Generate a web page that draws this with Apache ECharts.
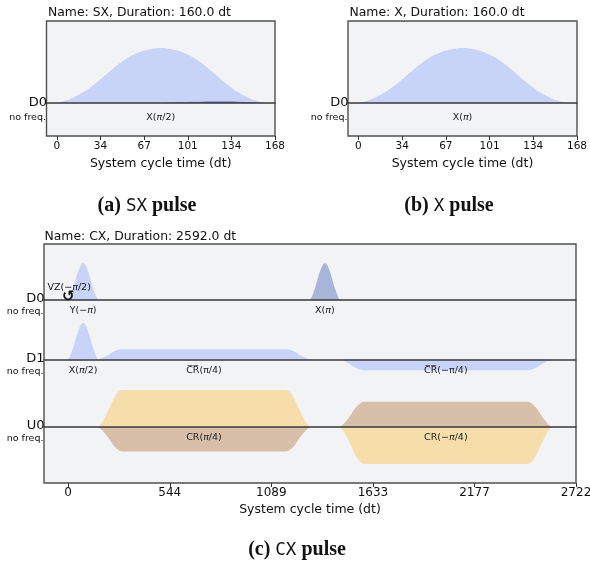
<!DOCTYPE html>
<html><head><meta charset="utf-8">
<script src="https://cdn.jsdelivr.net/npm/echarts@6/dist/echarts.min.js"></script>
<style>html,body{margin:0;padding:0;background:#fff}#c{width:590px;height:569px}</style>
</head><body><div id="c"></div>
<script>
// ================= DATA =================
// (a) SX pulse, D0 channel (dt, normalized amplitude)
const sxT      = [0,10,20,30,40,50,60,70,80,90,100,110,120,130,140,150,160];
const sxReal   = [0,0.07,0.19,0.36,0.56,0.75,0.89,0.97,1,0.97,0.89,0.75,0.56,0.36,0.19,0.07,0];
const sxImagT  = [80,90,100,110,120,130,140,150,160];
const sxImag   = [0,0.01,0.02,0.025,0.03,0.03,0.025,0.015,0];
// (b) X pulse, D0 channel
const xT       = [0,10,20,30,40,50,60,70,80,90,100,110,120,130,140,150,160];
const xReal    = [0,0.07,0.19,0.36,0.56,0.75,0.89,0.97,1,0.97,0.89,0.75,0.56,0.36,0.19,0.07,0];
// (c) CX pulse
const cxG1T    = [0,10,20,30,40,50,60,70,80,90,100,110,120,130,140,150,160];
const cxD0YRe  = [0,0.09,0.22,0.37,0.55,0.72,0.86,0.96,1,0.96,0.86,0.72,0.55,0.37,0.22,0.09,0];
const cxG2T    = [1296,1306,1316,1326,1336,1346,1356,1366,1376,1386,1396,1406,1416,1426,1436,1446,1456];
const cxD0XIm  = [0,0.09,0.22,0.37,0.55,0.72,0.86,0.96,1,0.96,0.86,0.72,0.55,0.37,0.22,0.09,0];
const cxD1XRe  = [0,0.09,0.22,0.37,0.55,0.71,0.85,0.95,0.99,0.95,0.85,0.71,0.55,0.37,0.22,0.09,0];
const cxCr1T   = [160,176,192,208,224,240,256,272,288,1168,1184,1200,1216,1232,1248,1264,1280,1296];
const cxCr2T   = [1456,1472,1488,1504,1520,1536,1552,1568,1584,2464,2480,2496,2512,2528,2544,2560,2576,2592];
const cxD1Cr1  = [0,0.03,0.06,0.10,0.15,0.20,0.24,0.27,0.28,0.28,0.27,0.24,0.20,0.15,0.10,0.06,0.03,0];
const cxD1Cr2  = [0,-0.03,-0.06,-0.11,-0.16,-0.21,-0.25,-0.28,-0.29,-0.29,-0.28,-0.25,-0.21,-0.16,-0.11,-0.06,-0.03,0];
const cxU0Cr1Re= [0,0.09,0.22,0.37,0.55,0.72,0.86,0.96,1,1,0.96,0.86,0.72,0.55,0.37,0.22,0.09,0];
const cxU0Cr1Im= [0,-0.06,-0.15,-0.24,-0.36,-0.48,-0.57,-0.63,-0.66,-0.66,-0.63,-0.57,-0.48,-0.36,-0.24,-0.15,-0.06,0];
const cxU0Cr2Re= [0,-0.09,-0.22,-0.37,-0.55,-0.72,-0.86,-0.96,-1,-1,-0.96,-0.86,-0.72,-0.55,-0.37,-0.22,-0.09,0];
const cxU0Cr2Im= [0,0.06,0.15,0.25,0.37,0.49,0.58,0.65,0.68,0.68,0.65,0.58,0.49,0.37,0.25,0.15,0.06,0];
// axis ticks
const sxTicks      = [0,33.6,67.2,100.8,134.4,168];
const sxTickLabels = ['0','34','67','101','134','168'];
const cxTicks      = [0,544.4,1088.8,1633.2,2177.6,2721.6];
const cxTickLabels = ['0','544','1089','1633','2177','2722'];
// texts
const titles   = ['Name: SX, Duration: 160.0 dt','Name: X, Duration: 160.0 dt','Name: CX, Duration: 2592.0 dt'];
const captions = [['(a)','SX','pulse'],['(b)','X','pulse'],['(c)','CX','pulse']];
const cxChannels = ['D0','D1','U0'];

// ================= LAYOUT =================
const FONT = 'DejaVu Sans';
const COL = {dRe:'#648fff', dIm:'#002999', uRe:'#ffb000', uIm:'#994a00'};
const LA = {left:46.5, top:21, width:228.5, height:115, unit:55, base:103};
const LB = {left:348, top:21, width:229, height:115, unit:55, base:103};
const LC = {left:44, top:244, width:532, height:239, unit:37, bases:[300,359.5,427]};
const sxRange = [-8, 168], cxRange = [-129.6, 2721.6];

const grids=[], xAxes=[], yAxes=[], series=[];
function addBox(L, rng, ticks, labels, tickFont, margin, nameGap) {
  const gi = grids.length;
  grids.push({left:L.left, top:L.top, width:L.width, height:L.height, show:true, outerBoundsMode:'none',
    containLabel:false, backgroundColor:'#f2f3f4', borderColor:'#505050', borderWidth:1.4});
  xAxes.push({gridIndex:gi, type:'value', min:rng[0], max:rng[1],
    axisLine:{show:false}, splitLine:{show:false},
    axisTick:{show:true, customValues:ticks, length:4, lineStyle:{color:'#333', width:1}},
    axisLabel:{customValues:ticks, fontFamily:FONT, fontSize:tickFont, color:'#111', margin:margin,
      formatter:(v)=>{const k=ticks.findIndex(t=>Math.abs(t-v)<1e-6); return k>=0?labels[k]:'';}},
    name:'System cycle time (dt)', nameLocation:'middle', nameGap:nameGap,
    nameTextStyle:{fontFamily:FONT, fontSize:12.5, color:'#111'}});
  yAxes.push({gridIndex:gi, type:'value', min:0, max:1, show:false});
  return gi;
}
function addChannel(L, base, rng) {
  const gi = grids.length;
  grids.push({left:L.left, top:L.top, width:L.width, height:L.height, show:false, outerBoundsMode:'none', containLabel:false});
  xAxes.push({gridIndex:gi, type:'value', min:rng[0], max:rng[1], z:5,
    axisLine:{show:true, onZero:true, lineStyle:{color:'#3a3a3a', width:1.5}},
    axisTick:{show:false}, axisLabel:{show:false}, splitLine:{show:false}});
  yAxes.push({gridIndex:gi, type:'value', show:false,
    min:-(L.top+L.height-base)/L.unit, max:(base-L.top)/L.unit});
  return gi;
}
function area(gi, times, vals, color, op) {
  series.push({type:'line', xAxisIndex:gi, yAxisIndex:gi, data:times.map((t,i)=>[t, vals[i]]),
    showSymbol:false, smooth:0.35, silent:true, animation:false,
    lineStyle:{width:0, opacity:0}, areaStyle:{color:color, opacity:op}});
}

const gA = addBox(LA, sxRange, sxTicks, sxTickLabels, 10.5, 5, 21);
const cA = addChannel(LA, LA.base, sxRange);
const gB = addBox(LB, sxRange, sxTicks, sxTickLabels, 10.5, 5, 21);
const cB = addChannel(LB, LB.base, sxRange);
const gC = addBox(LC, cxRange, cxTicks, cxTickLabels, 12, 4, 20);
const cC = LC.bases.map(b => addChannel(LC, b, cxRange));

area(cA, sxT, sxReal, COL.dRe, 0.3);
area(cA, sxImagT, sxImag, COL.dIm, 0.4);
area(cB, xT, xReal, COL.dRe, 0.3);
area(cC[0], cxG1T, cxD0YRe, COL.dRe, 0.3);
area(cC[0], cxG2T, cxD0XIm, COL.dIm, 0.3);
area(cC[1], cxG1T, cxD1XRe, COL.dRe, 0.3);
area(cC[1], cxCr1T, cxD1Cr1, COL.dRe, 0.3);
area(cC[1], cxCr2T, cxD1Cr2, COL.dRe, 0.3);
area(cC[2], cxCr1T, cxU0Cr1Re, COL.uRe, 0.3);
area(cC[2], cxCr1T, cxU0Cr1Im, COL.uIm, 0.3);
area(cC[2], cxCr2T, cxU0Cr2Re, COL.uRe, 0.3);
area(cC[2], cxCr2T, cxU0Cr2Im, COL.uIm, 0.3);

const chart = echarts.init(document.getElementById('c'));
chart.setOption({animation:false, backgroundColor:'#fff', grid:grids, xAxis:xAxes, yAxis:yAxes, series:series});

// ================= TEXTS =================
const P = (gi, t, v) => chart.convertToPixel({gridIndex:gi}, [t, v]);
const RICH = {i:{fontFamily:FONT, fontStyle:'italic', fontSize:9.5, fill:'#222'}};
const g = [];
function txt(x, y, text, opt) {
  g.push({type:'text', silent:true, z:100, x:x, y:y,
    style:Object.assign({text:text, fill:'#222', fontFamily:FONT, fontSize:9.5, align:'center', verticalAlign:'middle'}, opt||{})});
}
const mathPi = s => s.replace(/π/g, '{i|π}');
// titles
txt(LA.left+1.5, LA.top-8, titles[0], {align:'left', fontSize:12.4, fill:'#111'});
txt(LB.left+1.5, LB.top-8, titles[1], {align:'left', fontSize:12.4, fill:'#111'});
txt(LC.left+0.5, LC.top-7, titles[2], {align:'left', fontSize:12.4, fill:'#111'});
// channel names
[[LA, LA.base, 0, 15], [LB, LB.base, 0, 15]].forEach(([L, b, d1, d2]) => {
  txt(L.left+0.5, b+d1, 'D0', {align:'right', fontSize:13, fill:'#111'});
  txt(L.left-0.5, b+d2, 'no freq.', {align:'right', fontSize:9.5, fill:'#111'});
});
LC.bases.forEach((b, k) => {
  txt(LC.left+0.5, b-1, cxChannels[k], {align:'right', fontSize:13, fill:'#111'});
  txt(LC.left-0.5, b+12, 'no freq.', {align:'right', fontSize:9.5, fill:'#111'});
});
// pulse labels
let p;
p = P(cA, 80, 0); txt(p[0], p[1]+15, mathPi('X(π/2)'), {rich:RICH});
p = P(cB, 80, 0); txt(p[0], p[1]+15, mathPi('X(π)'), {rich:RICH});
p = P(cC[0], 0, 0);
txt(p[0]+1, p[1]-12.5, mathPi('VZ(−π/2)'), {rich:RICH, fill:'#111'});
txt(p[0], p[1]-2.5, '↺', {fontSize:15, fontWeight:'bold', fill:'#111'});
p = P(cC[0], 80, 0);   txt(p[0], p[1]+10.5, mathPi('Y(−π)'), {rich:RICH});
p = P(cC[0], 1376, 0); txt(p[0], p[1]+10.5, mathPi('X(π)'), {rich:RICH});
p = P(cC[1], 80, 0);   txt(p[0], p[1]+11.5, mathPi('X(π/2)'), {rich:RICH});
p = P(cC[1], 728, 0);  txt(p[0], p[1]+11.5, 'C\u0305R\u0305(π/4)');
p = P(cC[1], 2024, 0); txt(p[0], p[1]+11.5, 'C\u0305R\u0305(−π/4)');
p = P(cC[2], 728, 0);  txt(p[0], p[1]+10.5, mathPi('CR(π/4)'), {rich:RICH});
p = P(cC[2], 2024, 0); txt(p[0], p[1]+10.5, mathPi('CR(−π/4)'), {rich:RICH});
// captions
const capRich = {s:{fontFamily:'Liberation Serif', fontWeight:'bold', fontSize:20, fill:'#111'},
                 m:{fontFamily:'DejaVu Sans Mono', fontSize:17.5, fill:'#111'}};
[[147,206],[449,206],[297,550]].forEach(([x,y],k) => {
  const c = captions[k];
  txt(x, y, '{s|'+c[0]+'} {m|'+c[1]+'} {s|'+c[2]+'}', {rich:capRich, fontFamily:'Liberation Serif', fontSize:20, fontWeight:'bold', fill:'#111'});
});
chart.setOption({graphic:g});
</script></body></html>
